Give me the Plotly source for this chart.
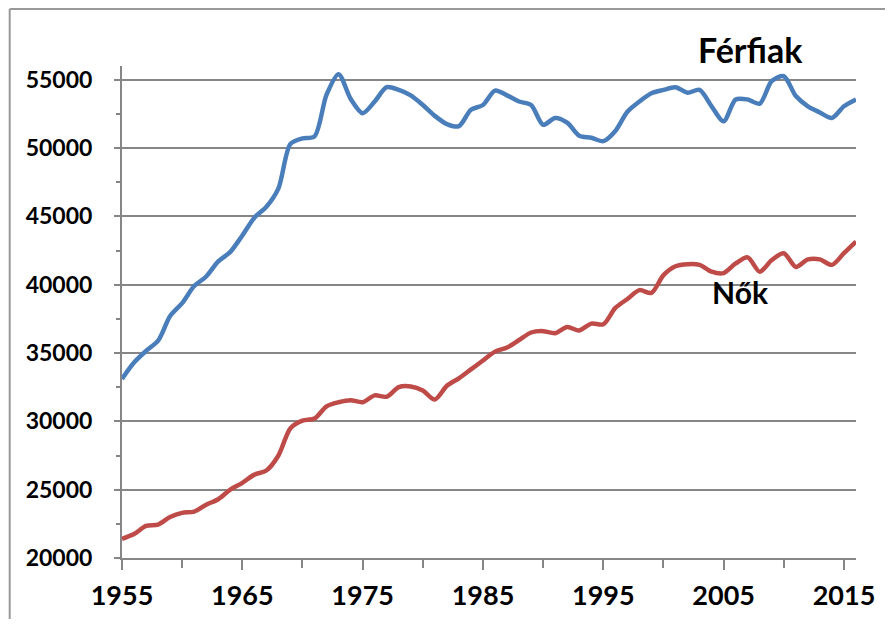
import plotly.graph_objects as go

years = list(range(1955, 2017))
ferfiak = [33100, 34300, 35150, 35900, 37700, 38650, 39900, 40600, 41700, 42400,
           43600, 44900, 45700, 47050, 50300, 50700, 50850, 53900, 55400, 53600,
           52550, 53400, 54450, 54250, 53850, 53150, 52350, 51750, 51600, 52800,
           53150, 54200, 53850, 53400, 53150, 51700, 52200, 51850, 50900, 50750,
           50500, 51250, 52650, 53400, 54000, 54250, 54450, 54050, 54250, 53050,
           51950, 53550, 53550, 53250, 54900, 55250, 53800, 53050, 52600, 52200,
           53050, 53550]
nok = [21400, 21750, 22350, 22450, 23000, 23300, 23400, 23900, 24300, 25000,
       25500, 26100, 26400, 27500, 29500, 30050, 30200, 31100, 31400, 31550,
       31400, 31900, 31800, 32500, 32550, 32250, 31600, 32600, 33150, 33800,
       34450, 35100, 35400, 35950, 36500, 36600, 36450, 36900, 36650, 37150,
       37100, 38300, 38950, 39600, 39400, 40700, 41350, 41500, 41450, 40950,
       40850, 41550, 42000, 40950, 41800, 42300, 41300, 41850, 41850, 41450,
       42300, 43150]
series_names = ["Férfiak", "Nők"]
x_ticks = [1955, 1965, 1975, 1985, 1995, 2005, 2015]
y_ticks = [20000, 25000, 30000, 35000, 40000, 45000, 50000, 55000]

FONT = "Lato"
GRAY = "#868686"

fig = go.Figure()
fig.add_trace(go.Scatter(x=years, y=ferfiak, mode="lines", name=series_names[0],
                         line=dict(color="#4a7ebb", width=4.5, shape="spline", smoothing=0.8)))
fig.add_trace(go.Scatter(x=years, y=nok, mode="lines", name=series_names[1],
                         line=dict(color="#be4b48", width=4.5, shape="spline", smoothing=0.8)))

fig.update_layout(
    width=877, height=611,
    margin=dict(l=114, r=29, t=58, b=61, autoexpand=False),
    paper_bgcolor="white", plot_bgcolor="white",
    showlegend=False,
    font=dict(family=FONT, color="black"),
)
fig.update_xaxes(
    range=[1955, 2016], tickvals=x_ticks, ticktext=[str(v) for v in x_ticks],
    showgrid=False, zeroline=False, automargin=False,
    showline=True, linecolor=GRAY, linewidth=2,
    ticks="outside", ticklen=10, tickwidth=2, tickcolor=GRAY,
    minor=dict(dtick=5, tick0=1955, ticks="outside", ticklen=8, tickwidth=2, tickcolor=GRAY),
    tickfont=dict(family=FONT, size=27, weight=700, color="black"),
    ticklabelstandoff=3,
)
fig.update_yaxes(
    range=[20000, 56000], tickvals=y_ticks, ticktext=[str(v) for v in y_ticks],
    showgrid=True, gridcolor=GRAY, gridwidth=2, zeroline=False, automargin=False,
    showline=True, linecolor=GRAY, linewidth=2,
    ticks="outside", ticklen=6, tickwidth=2, tickcolor=GRAY,
    minor=dict(dtick=2500, tick0=20000, ticks="outside", ticklen=4, tickwidth=2,
               tickcolor=GRAY, showgrid=False),
    tickfont=dict(family=FONT, size=23, weight=700, color="black"),
    ticklabelstandoff=17,
)

# label positions in paper coordinates of the plot area
fig.add_annotation(x=(2007.2 - 1955) / 61, y=(57200 - 20000) / 36000, xref="paper", yref="paper",
                   text=series_names[0],
                   showarrow=False, font=dict(family=FONT, size=34, weight=700, color="black"),
                   xanchor="center", yanchor="middle")
fig.add_annotation(x=2006.4, y=39450, xref="x", yref="y", text=series_names[1],
                   showarrow=False, font=dict(family=FONT, size=30, weight=700, color="black"),
                   xanchor="center", yanchor="middle")

# outer frame (left and top edges visible in the picture)
fig.add_shape(type="line", xref="paper", yref="paper", x0=-0.153, x1=-0.153, y0=-0.2, y1=1.116,
              line=dict(color="#999999", width=2))
fig.add_shape(type="line", xref="paper", yref="paper", x0=-0.153, x1=1.1, y0=1.116, y1=1.116,
              line=dict(color="#999999", width=2))

fig.write_html("out.html")
